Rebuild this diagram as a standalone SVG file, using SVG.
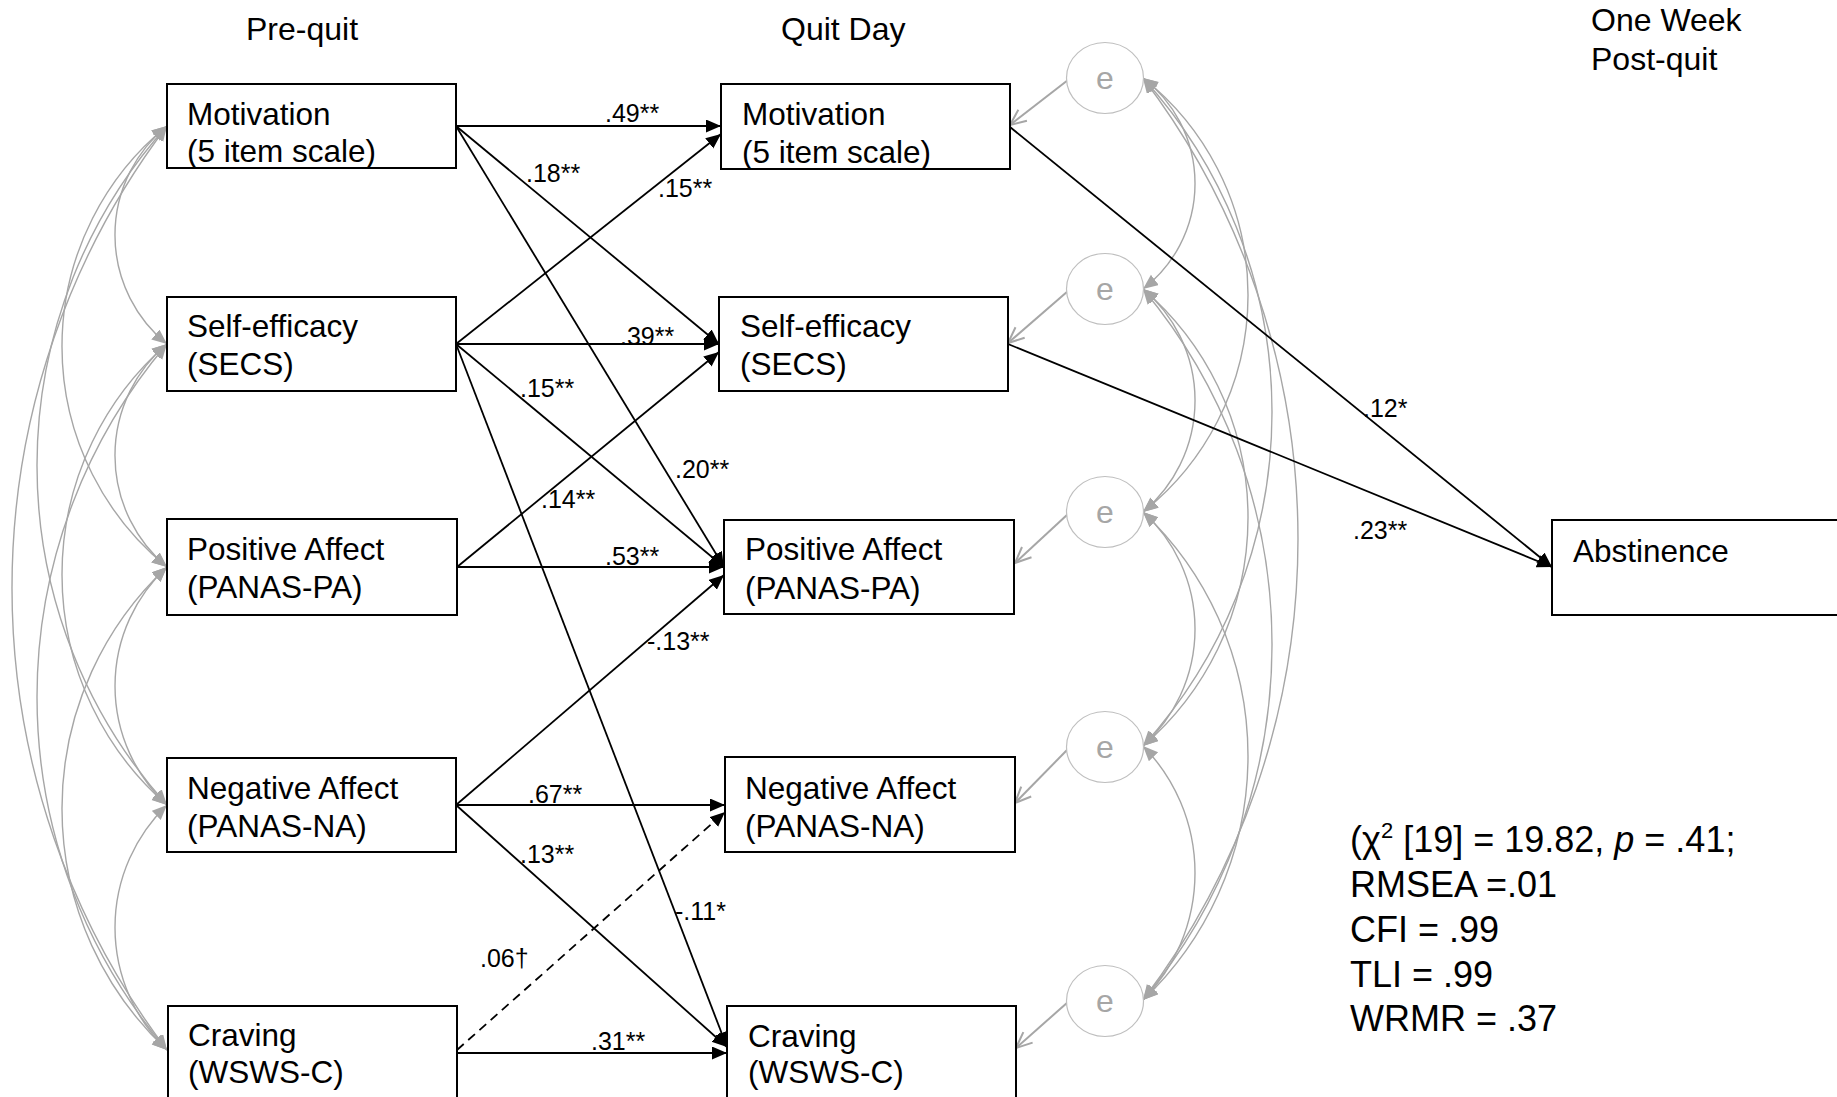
<svg xmlns="http://www.w3.org/2000/svg" width="1837" height="1097" viewBox="0 0 1837 1097">
<style>
text{font-family:"Liberation Sans",Arial,sans-serif;fill:#000}
.hdr{font-size:32px}
.lbl{font-size:31.5px}
.el{font-size:25px}
.stat{font-size:36px}
.box{fill:#fff;stroke:#000;stroke-width:2}
.path{fill:none;stroke:#000;stroke-width:1.8;marker-end:url(#blk)}
.dash{stroke-dasharray:9 6}
.cov{fill:none;stroke:#a6a6a6;stroke-width:1.4;marker-start:url(#gry);marker-end:url(#gry)}
.err{fill:none;stroke:#a6a6a6;stroke-width:2;marker-end:url(#opn)}
.ell{fill:#fff;stroke:#bfbfbf;stroke-width:1.2}
.etx{font-size:32px;fill:#a6a6a6;text-anchor:middle}
</style>
<defs>
<marker id="blk" markerUnits="userSpaceOnUse" markerWidth="16" markerHeight="14" refX="15" refY="6.5" orient="auto"><path d="M0,0 L15,6.5 L0,13 z" fill="#000"/></marker>
<marker id="gry" markerUnits="userSpaceOnUse" markerWidth="16" markerHeight="14" refX="15" refY="6.5" orient="auto-start-reverse"><path d="M0,0 L15,6.5 L0,13 z" fill="#a6a6a6"/></marker>
<marker id="opn" markerUnits="userSpaceOnUse" markerWidth="20" markerHeight="20" refX="17" refY="8" orient="auto"><path d="M1,1 L17,8 L1,15" fill="none" stroke="#a6a6a6" stroke-width="2"/></marker>
</defs>
<rect width="1837" height="1097" fill="#fff"/>

<g id="connectors">
  <g id="covariances-left">
    <path class="cov" d="M167,126 A140.2,140.2 0 0 0 167,344"/>
    <path class="cov" d="M167,344 A145.5,145.5 0 0 0 167,567"/>
    <path class="cov" d="M167,567 A162.2,162.2 0 0 0 167,805"/>
    <path class="cov" d="M167,805 A170.3,170.3 0 0 0 167,1050"/>
    <path class="cov" d="M167,126 A284,284 0 0 0 167,567"/>
    <path class="cov" d="M167,344 A305.5,305.5 0 0 0 167,805"/>
    <path class="cov" d="M167,567 A330.2,330.2 0 0 0 167,1050"/>
    <path class="cov" d="M167,126 A508.3,508.3 0 0 0 167,805"/>
    <path class="cov" d="M167,344 A544.3,544.3 0 0 0 167,1050"/>
    <path class="cov" d="M167,126 A766,766 0 0 0 167,1050"/>
  </g>
  <g id="covariances-right">
    <path class="cov" d="M1143,78 A133,133 0 0 1 1143,289"/>
    <path class="cov" d="M1143,289 A145.5,145.5 0 0 1 1143,512"/>
    <path class="cov" d="M1143,512 A157.6,157.6 0 0 1 1143,746"/>
    <path class="cov" d="M1143,746 A181.1,181.1 0 0 1 1143,1000"/>
    <path class="cov" d="M1143,78 A276.7,276.7 0 0 1 1143,512"/>
    <path class="cov" d="M1143,289 A301.1,301.1 0 0 1 1143,746"/>
    <path class="cov" d="M1143,512 A336,336 0 0 1 1143,1000"/>
    <path class="cov" d="M1143,78 A496.9,496.9 0 0 1 1143,746"/>
    <path class="cov" d="M1143,289 A554.3,554.3 0 0 1 1143,1000"/>
    <path class="cov" d="M1143,78 A763.1,763.1 0 0 1 1143,1000"/>
  </g>
  <g id="error-paths">
    <path class="err" d="M1068,80 L1010,125"/>
    <path class="err" d="M1068,291 L1008,343"/>
    <path class="err" d="M1068,514 L1015,563"/>
    <path class="err" d="M1068,749 L1015,803"/>
    <path class="err" d="M1068,1002 L1016,1048"/>
  </g>
  <g id="regressions">
    <path class="path" d="M456,126 L721,126"/>
    <path class="path" d="M456,126 L719,344"/>
    <path class="path" d="M456,126 L724,567"/>
    <path class="path" d="M456,344 L721,134"/>
    <path class="path" d="M456,344 L719,344"/>
    <path class="path" d="M456,344 L724,567"/>
    <path class="path" d="M456,344 L727,1047"/>
    <path class="path" d="M457,567 L719,352"/>
    <path class="path" d="M457,567 L724,567"/>
    <path class="path" d="M456,805 L724,575"/>
    <path class="path" d="M456,805 L725,805"/>
    <path class="path" d="M456,805 L727,1047"/>
    <path class="path dash" d="M457,1050 L725,812"/>
    <path class="path" d="M457,1053 L727,1053"/>
    <path class="path" d="M1010,127 L1552,567"/>
    <path class="path" d="M1008,344 L1552,567"/>
  </g>
  <g id="edge-labels" class="el">
    <text class="el" x="605" y="122">.49**</text>
    <text class="el" x="526" y="182">.18**</text>
    <text class="el" x="658" y="197">.15**</text>
    <text class="el" x="620" y="345">.39**</text>
    <text class="el" x="520" y="397">.15**</text>
    <text class="el" x="675" y="478">.20**</text>
    <text class="el" x="541" y="508">.14**</text>
    <text class="el" x="605" y="565">.53**</text>
    <text class="el" x="647" y="650">-.13**</text>
    <text class="el" x="528" y="803">.67**</text>
    <text class="el" x="520" y="863">.13**</text>
    <text class="el" x="675" y="920">-.11*</text>
    <text class="el" x="480" y="967">.06†</text>
    <text class="el" x="591" y="1050">.31**</text>
    <text class="el" x="1363" y="417">.12*</text>
    <text class="el" x="1353" y="539">.23**</text>
  </g>
</g>

<g id="headers">
  <text class="hdr" x="246" y="40">Pre-quit</text>
  <text class="hdr" x="781" y="40">Quit Day</text>
  <text class="hdr" x="1591" y="31">One Week</text>
  <text class="hdr" x="1591" y="70">Post-quit</text>
</g>

<g id="pre-motivation"><rect class="box" x="167" y="84" width="289" height="84"/><text class="lbl" x="187" y="125">Motivation</text><text class="lbl" x="187" y="162">(5 item scale)</text></g>
<g id="pre-selfefficacy"><rect class="box" x="167" y="297" width="289" height="94"/><text class="lbl" x="187" y="337">Self-efficacy</text><text class="lbl" x="187" y="375">(SECS)</text></g>
<g id="pre-positive"><rect class="box" x="167" y="519" width="290" height="96"/><text class="lbl" x="187" y="560">Positive Affect</text><text class="lbl" x="187" y="598">(PANAS-PA)</text></g>
<g id="pre-negative"><rect class="box" x="167" y="758" width="289" height="94"/><text class="lbl" x="187" y="799">Negative Affect</text><text class="lbl" x="187" y="837">(PANAS-NA)</text></g>
<g id="pre-craving"><rect class="box" x="168" y="1006" width="289" height="100"/><text class="lbl" x="188" y="1046">Craving</text><text class="lbl" x="188" y="1083">(WSWS-C)</text></g>

<g id="qd-motivation"><rect class="box" x="721" y="84" width="289" height="85"/><text class="lbl" x="742" y="125">Motivation</text><text class="lbl" x="742" y="163">(5 item scale)</text></g>
<g id="qd-selfefficacy"><rect class="box" x="719" y="297" width="289" height="94"/><text class="lbl" x="740" y="337">Self-efficacy</text><text class="lbl" x="740" y="375">(SECS)</text></g>
<g id="qd-positive"><rect class="box" x="724" y="520" width="290" height="94"/><text class="lbl" x="745" y="560">Positive Affect</text><text class="lbl" x="745" y="599">(PANAS-PA)</text></g>
<g id="qd-negative"><rect class="box" x="725" y="757" width="290" height="95"/><text class="lbl" x="745" y="799">Negative Affect</text><text class="lbl" x="745" y="837">(PANAS-NA)</text></g>
<g id="qd-craving"><rect class="box" x="727" y="1006" width="289" height="100"/><text class="lbl" x="748" y="1047">Craving</text><text class="lbl" x="748" y="1083">(WSWS-C)</text></g>

<g id="e1"><ellipse class="ell" cx="1105" cy="78" rx="38.5" ry="35.5"/><text class="etx" x="1105" y="89">e</text></g>
<g id="e2"><ellipse class="ell" cx="1105" cy="289" rx="38.5" ry="35.5"/><text class="etx" x="1105" y="300">e</text></g>
<g id="e3"><ellipse class="ell" cx="1105" cy="512" rx="38.5" ry="35.5"/><text class="etx" x="1105" y="523">e</text></g>
<g id="e4"><ellipse class="ell" cx="1105" cy="747" rx="38.5" ry="35.5"/><text class="etx" x="1105" y="758">e</text></g>
<g id="e5"><ellipse class="ell" cx="1105" cy="1001" rx="38.5" ry="35.5"/><text class="etx" x="1105" y="1012">e</text></g>

<g id="abstinence"><rect class="box" x="1552" y="520" width="300" height="95"/><text class="lbl" x="1573" y="562">Abstinence</text></g>

<g id="fit-stats" class="stat">
  <text class="stat" x="1350" y="852">(χ<tspan font-size="22" dy="-14">2</tspan><tspan dy="14"> [19] = 19.82, </tspan><tspan font-style="italic">p</tspan> = .41;</text>
  <text class="stat" x="1350" y="897">RMSEA =.01</text>
  <text class="stat" x="1350" y="942">CFI = .99</text>
  <text class="stat" x="1350" y="987">TLI = .99</text>
  <text class="stat" x="1350" y="1031">WRMR = .37</text>
</g>
</svg>
